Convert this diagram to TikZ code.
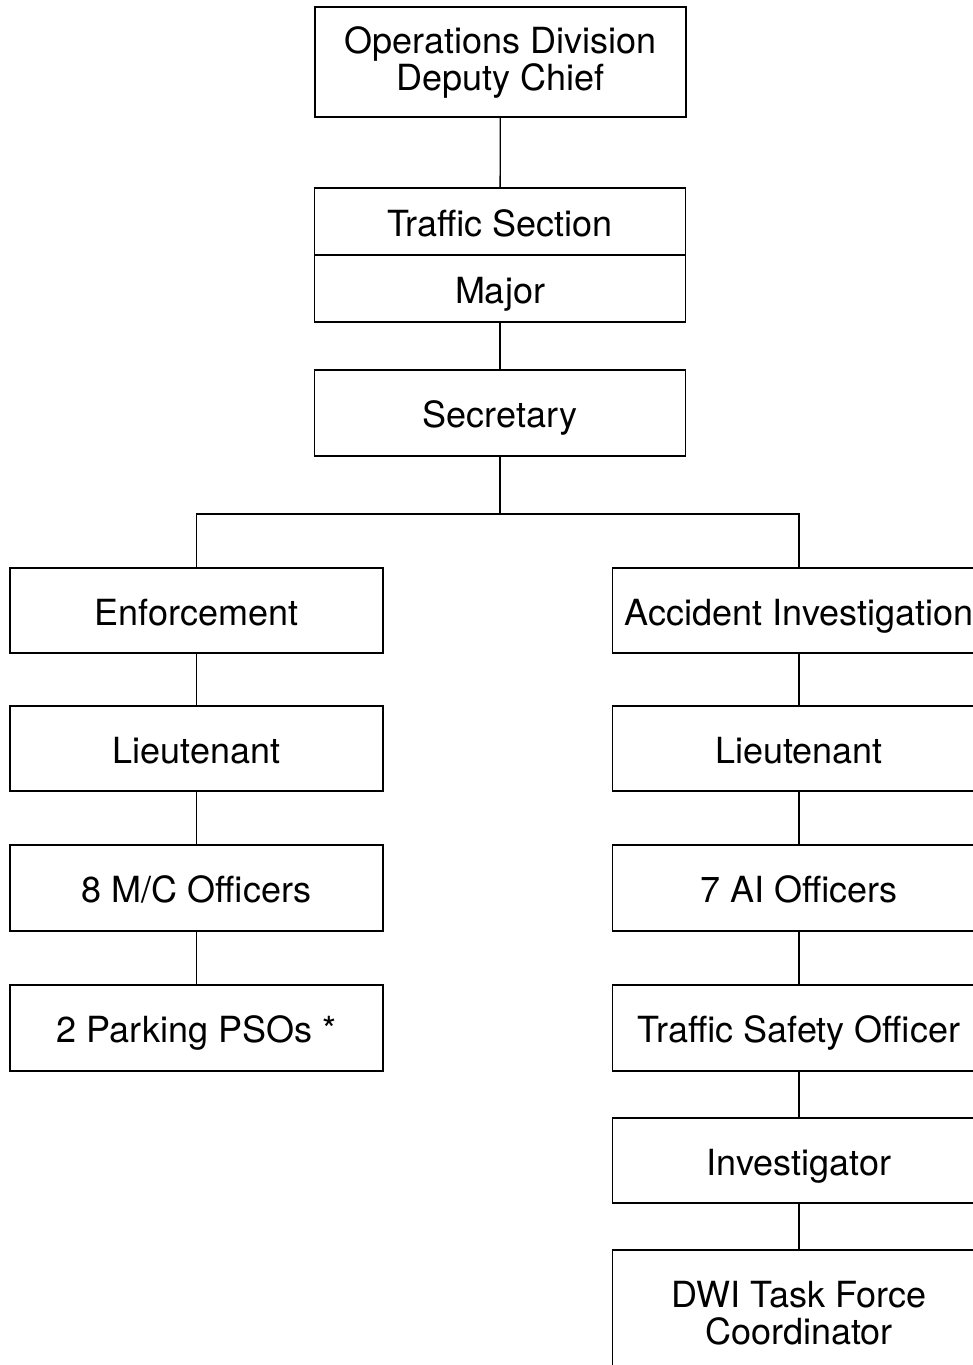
\documentclass[tikz,border=0pt]{standalone}
\usepackage{fontspec}
\setmainfont{TeX Gyre Heros}
\tikzset{
    post/.style = {draw, line width=1.3pt, inner sep=0pt, minimum width=371pt,
        font=\fontsize{36}{36}\selectfont, align=center},
    one/.style = {post, text height=29pt, text depth=0pt},
    link/.style = {line width=1.3pt}
}
\begin{document}
\begin{tikzpicture}[x=1pt, y=-1pt]
        \useasboundingbox (0, 0) rectangle (973, 1365);
        % head of the section
        \node [post, minimum height=110pt] (chief) at (500.5, 62) {Operations Division\\[1pt]Deputy Chief};
        \node [one, minimum height=67pt] (traffic) at (500, 221.5) {Traffic Section};
        \node [one, minimum height=67pt] (major) at (500, 288.5) {Major};
        \node [one, minimum height=86pt] (secretary) at (500, 413) {Secretary};
        % left column
        \node [one, minimum width=373pt, minimum height=85pt] (enforce) at (196.5, 610.5) {Enforcement};
        \node [one, minimum width=373pt, minimum height=85pt] (lieutl) at (196.5, 748.5) {Lieutenant};
        \node [one, minimum width=373pt, minimum height=86pt] (mcoff) at (196.5, 888) {8 M/C Officers};
        \node [one, minimum width=373pt, minimum height=86pt] (parking) at (196.5, 1028) {2 Parking PSOs *};
        % right column
        \node [one, minimum width=373pt, minimum height=85pt] (accident) at (799, 610.5) {Accident Investigation};
        \node [one, minimum width=373pt, minimum height=85pt] (lieutr) at (799, 748.5) {Lieutenant};
        \node [one, minimum width=373pt, minimum height=86pt] (aioff) at (799, 888) {7 AI Officers};
        \node [one, minimum width=373pt, minimum height=86pt] (safety) at (799, 1028) {Traffic Safety Officer};
        \node [one, minimum width=373pt, minimum height=85pt] (invest) at (799, 1160.5) {Investigator};
        \node [post, minimum width=373pt, minimum height=126pt] (dwi) at (799, 1313) {DWI Task Force\\[1pt]Coordinator};
        \coordinate (bar) at (500, 514);
        \draw [link] (chief) -- (traffic);
        \draw [link] (major) -- (secretary);
        \draw [link] (secretary) -- (bar);
        \draw [link] (enforce.north) |- (bar) -| (accident.north);
        \draw [link] (enforce) -- (lieutl);
        \draw [link] (lieutl) -- (mcoff);
        \draw [link] (mcoff) -- (parking);
        \draw [link] (accident) -- (lieutr);
        \draw [link] (lieutr) -- (aioff);
        \draw [link] (aioff) -- (safety);
        \draw [link] (safety) -- (invest);
        \draw [link] (invest) -- (dwi);
    \end{tikzpicture}
\end{document}
